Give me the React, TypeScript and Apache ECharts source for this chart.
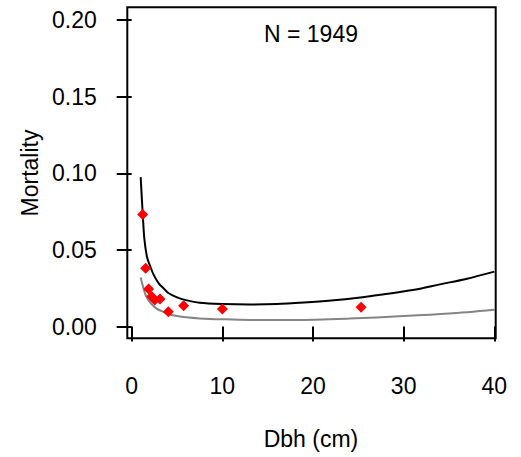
import React, { useEffect, useRef } from "react";
import * as echarts from "echarts";

const xTicks = [0, 10, 20, 30, 40];
const yTicks = [0, 0.05, 0.1, 0.15, 0.2];

// observed mortality by size class (Dbh cm, mortality)
const pointDbh = [1.21, 1.54, 1.87, 2.2, 2.53, 3.12, 4.04, 5.73, 10.0, 25.3];
const pointMort = [0.0731, 0.038, 0.0245, 0.0195, 0.0173, 0.018, 0.0097, 0.0136, 0.0114, 0.0125];

// upper fitted curve (black)
const upperDbh = [0.99, 1.2, 1.4, 1.7, 2.0, 2.4, 3.0, 3.5, 4.0, 5.0, 6.0, 7.5, 10, 13, 16, 19, 22, 25, 28, 31, 34, 37, 40];
const upperMort = [0.0975, 0.075, 0.057, 0.045, 0.04, 0.034, 0.028, 0.025, 0.022, 0.019, 0.0172, 0.0155, 0.0147, 0.0144, 0.0147, 0.0157, 0.017, 0.0188, 0.0212, 0.0238, 0.0275, 0.0312, 0.0358];

// lower fitted curve (grey)
const lowerDbh = [0.99, 1.3, 1.5, 1.85, 2.2, 2.8, 3.5, 4.2, 5, 6, 7.5, 10, 13, 18, 24, 30, 35, 40];
const lowerMort = [0.032, 0.025, 0.021, 0.0172, 0.0145, 0.0115, 0.0095, 0.0078, 0.0068, 0.006, 0.0053, 0.0047, 0.0043, 0.0043, 0.0052, 0.0068, 0.0085, 0.011];

const title = "N = 1949";
const xTitle = "Dbh (cm)";
const yTitle = "Mortality";

const FONT = "'Liberation Sans', Arial, Helvetica, sans-serif";
const FS = 23;

export default function App() {
  const ref = useRef<HTMLDivElement>(null);
  useEffect(() => {
    document.body.style.margin = "0";
    const chart = echarts.init(ref.current!, null, { renderer: "svg" });
    const zip = (a: number[], b: number[]) => a.map((v, i) => [v, b[i]]);
    chart.setOption({
      animation: false,
      backgroundColor: "#ffffff",
      grid: { left: 131.7, right: 26.7, top: 20, bottom: 130.5, containLabel: false },
      xAxis: {
        type: "value",
        min: xTicks[0],
        max: xTicks[xTicks.length - 1],
        interval: 10,
        offset: 11.5,
        axisLine: { show: false },
        axisTick: { show: true, length: 15, lineStyle: { color: "#000", width: 2 } },
        splitLine: { show: false },
        axisLabel: { margin: 36, color: "#000", fontSize: FS, fontFamily: FONT, showMinLabel: true, showMaxLabel: true },
      },
      yAxis: {
        type: "value",
        min: yTicks[0],
        max: yTicks[yTicks.length - 1],
        interval: 0.05,
        offset: 4.4,
        axisLine: { show: false },
        axisTick: { show: true, length: 15, lineStyle: { color: "#000", width: 2 } },
        splitLine: { show: false },
        axisLabel: {
          margin: 30.5,
          color: "#000",
          fontSize: FS,
          fontFamily: FONT,
          formatter: (v: number) => v.toFixed(2),
          showMinLabel: true,
          showMaxLabel: true,
        },
      },
      graphic: [
        {
          type: "rect",
          shape: { x: 127.3, y: 7.3, width: 368.4, height: 331 },
          style: { fill: "none", stroke: "#000", lineWidth: 2 },
          z: 10,
        },
        {
          type: "text",
          x: 311,
          y: 34,
          style: { text: title, fontSize: FS, fontFamily: FONT, fill: "#000", align: "center", verticalAlign: "middle" },
        },
        {
          type: "text",
          x: 311,
          y: 439,
          style: { text: xTitle, fontSize: FS, fontFamily: FONT, fill: "#000", align: "center", verticalAlign: "middle" },
        },
        {
          type: "text",
          x: 30,
          y: 173,
          rotation: Math.PI / 2,
          style: { text: yTitle, fontSize: FS, fontFamily: FONT, fill: "#000", align: "center", verticalAlign: "middle" },
        },
      ],
      series: [
        {
          type: "line",
          data: zip(lowerDbh, lowerMort),
          showSymbol: false,
          smooth: 0.3,
          lineStyle: { color: "#858585", width: 2 },
          z: 2,
        },
        {
          type: "line",
          data: zip(upperDbh, upperMort),
          showSymbol: false,
          smooth: 0.3,
          lineStyle: { color: "#000000", width: 2 },
          z: 3,
        },
        {
          type: "scatter",
          data: zip(pointDbh, pointMort),
          symbol: "diamond",
          symbolSize: 11,
          itemStyle: { color: "#ff0000", opacity: 1 },
          z: 4,
        },
      ],
    });
    return () => chart.dispose();
  }, []);
  return <div ref={ref} style={{ position: "absolute", left: 0, top: 0, width: 521, height: 457 }} />;
}
